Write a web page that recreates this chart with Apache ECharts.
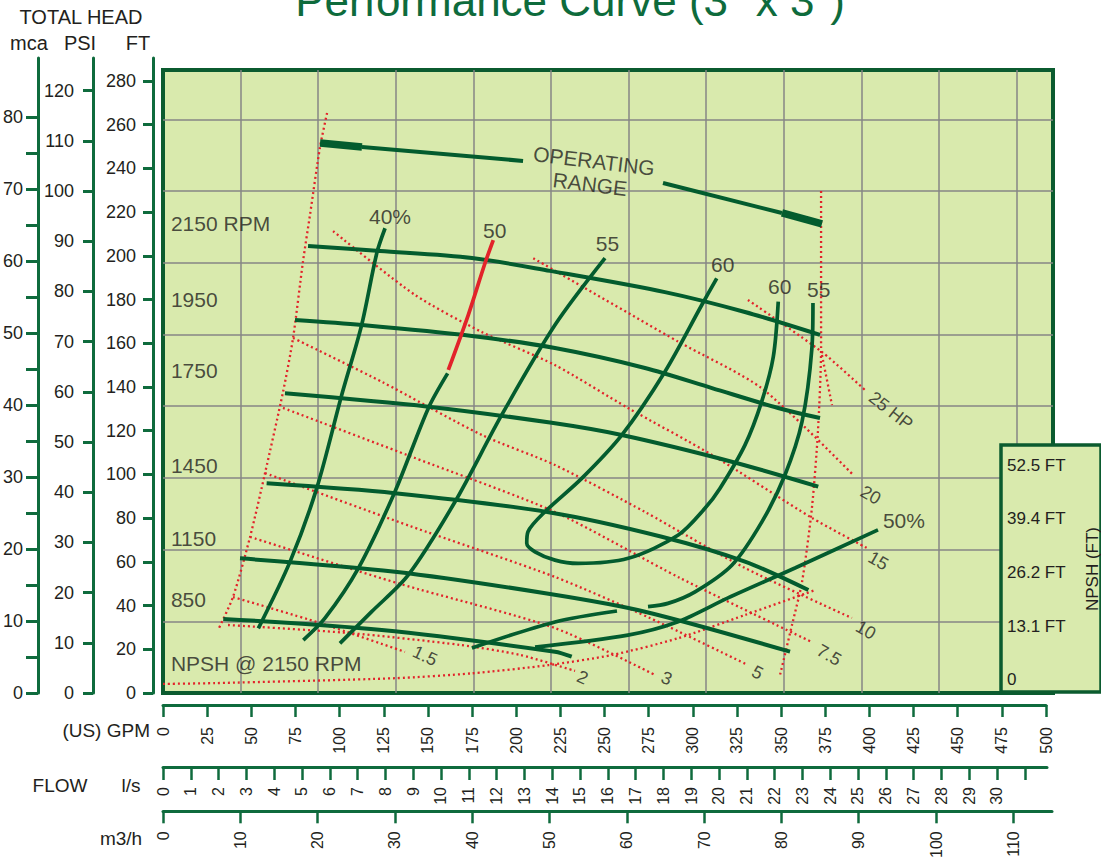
<!DOCTYPE html>
<html><head><meta charset="utf-8">
<script src="https://cdn.jsdelivr.net/npm/echarts@6/dist/echarts.min.js"></script>
<style>html,body{margin:0;padding:0;background:#fff}#c{width:1101px;height:861px}</style>
</head><body><div id="c"></div>
<script>
// ---------- tick labels ----------
const ftTicks = [0,20,40,60,80,100,120,140,160,180,200,220,240,260,280];
const psiTicks = [0,10,20,30,40,50,60,70,80,90,100,110,120];
const mcaTicks = [0,5,10,15,20,25,30,35,40,45,50,55,60,65,70,75,80];
const mcaLabels = [0,10,20,30,40,50,60,70,80];
const gpmTicks = [0,25,50,75,100,125,150,175,200,225,250,275,300,325,350,375,400,425,450,475,500];
const lsTicks = [0,1,2,3,4,5,6,7,8,9,10,11,12,13,14,15,16,17,18,19,20,21,22,23,24,25,26,27,28,29,30,31];
const lsLabels = [0,1,2,3,4,5,6,7,8,9,10,11,12,13,14,15,16,17,18,19,20,21,22,23,24,25,26,27,28,29,30];
const m3hTicks = [0,10,20,30,40,50,60,70,80,90,100,110];
const npshTicks = [0,13.1,26.2,39.4,52.5];

// ---------- head curves [GPM, FT] ----------
const rpm2150 = [[82.3,204.5],[123.1,202.2],[175.3,199.0],[219.6,193.1],[284.8,183.4],[330.2,174.3],[372.8,163.8]];
const rpm1950 = [[74.9,170.6],[112.9,168.3],[175.3,163.3],[222.4,157.8],[273.5,148.7],[311.5,139.5],[349.0,130.4],[372.8,125.8]];
const rpm1750 = [[69.2,137.1],[150.5,131.0],[219.6,123.7],[260.3,118.0],[322.7,105.8],[371.8,94.4]];
const rpm1450 = [[58.8,95.9],[131.6,91.4],[219.6,82.6],[283.0,71.5],[330.2,60.1],[366.2,47.1]];
const rpm1150 = [[43.7,61.6],[131.6,55.5],[219.6,45.3],[273.5,37.2],[355.8,18.9]];
const rpm850  = [[34.2,33.9],[124.1,28.8],[222.4,18.9],[231.9,16.6]];

// ---------- efficiency curves [GPM, FT] ----------
const eff40 = [[126.0,212.6],[121.3,201.2],[112.7,168.3],[101.4,136.3],[87.2,93.6],[72.1,60.1],[54.1,29.6]];
const eff50red = [[187.4,207.2],[182.7,196.6],[173.2,172.9],[161.9,147.8]];
const eff50 = [[161.5,146.2],[150.5,130.2],[131.6,92.1],[110.8,57.0],[91.9,34.2],[79.6,24.2]];
const eff55 = [[250.8,198.9],[222.4,168.3],[192.2,127.2],[165.7,87.5],[139.2,54.0],[118.4,37.2],[100.4,22.7]];
const eff60 = [[314.2,189.7],[305.7,177.5],[284.8,147.0],[260.3,118.0],[237.6,98.2],[216.7,82.9],[207.1,73.8],[206.4,68.5],[211.1,64.6],[222.4,60.8],[235.5,59.3],[264.0,61.6],[292.4,72.3],[307.5,84.5],[316.0,93.6],[330.2,113.4],[339.7,133.3],[346.3,153.8],[349.1,179.0]];
const eff55r = [[368.8,178.4],[368.2,157.8],[362.6,124.1],[352.9,99.7],[339.9,78.4],[322.9,58.6],[301.9,46.3],[286.5,41.0],[275.2,39.5]];
const eff55low = [[175.3,20.6],[222.4,32.5],[257.6,37.5]];
const eff50r = [[211.1,21.0],[263.8,26.5],[292.2,32.6],[320.6,43.5],[358.6,57.2],[405.7,74.6]];

// ---------- operating range ----------
const opLeftBold = [[89.1,251.6],[112.9,249.8]];
const opLeftThin = [[112.9,249.8],[204.3,243.4]];
const opRightThin = [[283.7,233.3],[351.2,219.6]];
const opRightBold = [[351.2,219.6],[373.9,214.6]];

// ---------- red dotted lines ----------
const minFlow = [[93.1,265.3],[89.1,249.8],[83.4,218.7],[79.4,197.2],[73.8,162.4],[68.1,137.7],[57.9,100.6],[49.4,71.4],[39.7,43.9],[31.2,28.8]];
const maxFlow = [[373.4,229.6],[373.4,157.8],[371.6,119.4],[368.2,84.6],[362.6,50.8],[356.9,31.1],[350.1,8.2]];
const maxBranch = [[373.9,154.6],[379.6,131.7]];
const hp25 = [[331.9,179.8],[373.9,156.0],[398.3,138.6]];
const hp20 = [[210.1,198.9],[292.4,160.7],[339.7,139.4],[391.7,99.7]];
const hp15 = [[96.5,211.3],[143.0,182.1],[181.0,165.1],[222.4,150.0],[263.8,130.4],[311.5,108.9],[368.2,80.1],[399.5,66.3]];
const hp10 = [[73.8,162.4],[124.3,142.3],[181.0,118.0],[222.4,104.3],[273.5,82.8],[330.2,57.2],[390.9,34.3]];
const hp7_5 = [[68.1,130.4],[143.0,107.5],[222.4,82.8],[293.4,52.6],[368.2,23.3]];
const hp5 = [[57.9,100.6],[140.1,76.4],[222.4,53.1],[276.3,34.3],[331.9,12.8]];
const hp3 = [[49.4,71.4],[134.5,49.9],[222.4,29.7],[279.2,8.2]];
const hp2 = [[36.9,31.1],[106.1,27.4],[168.5,22.0],[202.6,17.4],[233.8,10.1]];
const hp1_5 = [[39.7,43.9],[89.1,32.0],[137.3,18.8]];
// NPSH @ 2150 RPM [GPM, NPSH ft]
const npsh = [[0,1.0],[29.5,1.2],[131.6,2.4],[175.3,3.6],[218.5,5.6],[254.8,8.1],[292.2,12.2],[330.2,17.9],[369.9,24.0]];

// ---------- annotation texts [GPM, FT, text, rotation] ----------
const rpmLabels = [[4.5,214.7,'2150 RPM'],[4.5,180.2,'1950'],[4.5,147.5,'1750'],[4.5,104.0,'1450'],[4.5,70.8,'1150'],[4.5,42.9,'850'],[4.5,13.3,'NPSH @ 2150 RPM']];
const effLabels = [[128.8,218.0,'40%',0],[188.2,211.8,'50',0],[252.2,205.7,'55',0],[317.6,195.8,'60',0],[349.9,185.9,'60',0],[372.1,184.4,'55',0],[420.4,79.1,'50%',0],[244.6,243.4,'OPERATING',-7],[242.3,232.8,'RANGE',-7]];
const hpLabels = [[413.0,129.1,'25 HP',-38],[401.6,90.6,'20',-30],[405.9,60.5,'15',-30],[398.8,28.8,'10',-30],[378.0,17.4,'7.5',-30],[337.3,9.4,'5',-28],[285.8,6.7,'3',-22],[238.0,7.1,'2',-25],[148.7,17.0,'1.5',-25]];

// ---------- styles ----------
const FONT = '"Liberation Sans", Arial, sans-serif';
const TXT = '#231f20';
const AX = '#0f6b3d';
const GREEN = '#035c2e';
const RED = '#e2232a';
const BG = '#d9eaad';

function line(data, color, width, opt) {
  return Object.assign({
    type: 'line', xAxisIndex: 0, yAxisIndex: 0, data: data, symbol: 'none',
    smooth: 0.3, silent: true, animation: false, z: 3,
    lineStyle: { color: color, width: width, cap: 'butt' }
  }, opt || {});
}
function dotted(data, opt) {
  return line(data, RED, 2.3, Object.assign({ smooth: 0.25, z: 2,
    lineStyle: { color: RED, width: 2.3, type: [2, 3] } }, opt || {}));
}
function labelSeries(items, align, size) {
  return {
    type: 'scatter', xAxisIndex: 0, yAxisIndex: 0, symbolSize: 1, silent: true, animation: false, z: 4,
    itemStyle: { color: 'rgba(0,0,0,0)' },
    data: items.map(a => ({
      value: [a[0], a[1]],
      label: { show: true, formatter: a[2], rotate: a[3] || 0 }
    })),
    label: { show: true, position: 'inside', align: align, verticalAlign: 'middle',
      color: TXT, fontSize: size, fontFamily: FONT }
  };
}

const chart = echarts.init(document.getElementById('c'), null, { renderer: 'svg' });
chart.setOption({
  animation: false,
  textStyle: { fontFamily: FONT },
  grid: [
    { left: 163, top: 70, width: 890, height: 623, show: true, backgroundColor: BG, borderColor: '#0b5b2f', borderWidth: 4, z: 0 },
    { left: 163, top: 700, width: 883, height: 5 },
    { left: 163, top: 762, width: 884, height: 5 },
    { left: 163, top: 809, width: 889, height: 5 },
    { left: 152, top: 58, width: 2, height: 635 },
    { left: 1001, top: 445, width: 106, height: 247, show: true, backgroundColor: BG, borderColor: '#0b5b2f', borderWidth: 3.5, z: 5 }
  ],
  xAxis: [
    { gridIndex: 0, type: 'value', min: 0, max: 505, show: false },
    { gridIndex: 0, type: 'value', min: 0, max: 114.70, interval: 10,
      axisLine: { show: false }, axisTick: { show: false }, axisLabel: { show: false },
      splitLine: { show: true, showMinLine: false, showMaxLine: false, lineStyle: { color: '#868686', width: 1.5 } } },
    { gridIndex: 1, type: 'value', min: 0, max: 500, position: 'bottom',
      axisLine: { show: true, onZero: false, lineStyle: { color: AX, width: 3 } },
      axisTick: { show: true, length: 12, customValues: gpmTicks, lineStyle: { color: AX, width: 2.5 } },
      axisLabel: { customValues: gpmTicks, rotate: 90, margin: 22, color: TXT, fontSize: 16 },
      splitLine: { show: false } },
    { gridIndex: 2, type: 'value', min: 0, max: 31.8, position: 'bottom',
      axisLine: { show: true, onZero: false, lineStyle: { color: AX, width: 3 } },
      axisTick: { show: true, length: 13, customValues: lsTicks, lineStyle: { color: AX, width: 2.5 } },
      axisLabel: { customValues: lsLabels, rotate: 90, margin: 20, color: TXT, fontSize: 16 },
      splitLine: { show: false } },
    { gridIndex: 3, type: 'value', min: 0, max: 115, position: 'bottom',
      axisLine: { show: true, onZero: false, lineStyle: { color: AX, width: 3 } },
      axisTick: { show: true, length: 12, customValues: m3hTicks, lineStyle: { color: AX, width: 2.5 } },
      axisLabel: { customValues: m3hTicks, rotate: 90, margin: 20, color: TXT, fontSize: 16 },
      splitLine: { show: false } },
    { gridIndex: 4, type: 'value', show: false },
    { gridIndex: 5, type: 'value', show: false }
  ],
  yAxis: [
    { gridIndex: 0, type: 'value', min: 0, max: 285, show: false },
    { gridIndex: 0, type: 'value', min: 0, max: 86.87, interval: 10,
      axisLine: { show: false }, axisTick: { show: false }, axisLabel: { show: false },
      splitLine: { show: true, showMinLine: false, showMaxLine: false, lineStyle: { color: '#868686', width: 1.5 } } },
    { gridIndex: 0, type: 'value', min: -1.227, max: 151.6, show: false },
    { gridIndex: 4, type: 'value', min: 0, max: 290.5, position: 'left', offset: 0,
      axisLine: { show: true, lineStyle: { color: AX, width: 3 } },
      axisTick: { show: true, length: 10, customValues: ftTicks, lineStyle: { color: AX, width: 3 } },
      axisLabel: { customValues: ftTicks, margin: 17, color: TXT, fontSize: 18 },
      splitLine: { show: false } },
    { gridIndex: 4, type: 'value', min: 0, max: 126.5, position: 'left', offset: 60,
      axisLine: { show: true, lineStyle: { color: AX, width: 3 } },
      axisTick: { show: true, length: 10, customValues: psiTicks, lineStyle: { color: AX, width: 3 } },
      axisLabel: { customValues: psiTicks, margin: 19, color: TXT, fontSize: 18 },
      splitLine: { show: false } },
    { gridIndex: 4, type: 'value', min: 0, max: 88.2, position: 'left', offset: 115,
      axisLine: { show: true, lineStyle: { color: AX, width: 3 } },
      axisTick: { show: true, length: 12, customValues: mcaTicks, lineStyle: { color: AX, width: 3 } },
      axisLabel: { customValues: mcaLabels, margin: 15, color: TXT, fontSize: 18 },
      splitLine: { show: false } },
    { gridIndex: 1, type: 'value', min: 0, max: 1, show: false },
    { gridIndex: 2, type: 'value', min: 0, max: 1, show: false },
    { gridIndex: 3, type: 'value', min: 0, max: 1, show: false },
    { gridIndex: 5, type: 'value', min: -0.98, max: 59.6, position: 'left', z: 6,
      axisLine: { show: false }, axisTick: { show: false }, splitLine: { show: false },
      axisLabel: { customValues: npshTicks, inside: true, margin: 6, verticalAlign: 'bottom', color: TXT, fontSize: 17,
        formatter: v => (v === 0 ? '0' : v.toFixed(1) + ' FT') } }
  ],
  series: [
    dotted(minFlow), dotted(maxFlow), dotted(maxBranch),
    dotted(hp25), dotted(hp20), dotted(hp15), dotted(hp10), dotted(hp7_5), dotted(hp5), dotted(hp3), dotted(hp2), dotted(hp1_5),
    dotted(npsh, { yAxisIndex: 2 }),
    line(rpm2150, GREEN, 4), line(rpm1950, GREEN, 4), line(rpm1750, GREEN, 4),
    line(rpm1450, GREEN, 4), line(rpm1150, GREEN, 4), line(rpm850, GREEN, 4),
    line(eff40, GREEN, 3.7), line(eff50, GREEN, 3.7), line(eff50red, RED, 3.7), line(eff55, GREEN, 3.7),
    line(eff60, GREEN, 3.7), line(eff55r, GREEN, 3.7), line(eff55low, GREEN, 3.7), line(eff50r, GREEN, 3.7),
    line(opLeftBold, GREEN, 7.5, { smooth: false }), line(opLeftThin, GREEN, 4, { smooth: false }),
    line(opRightThin, GREEN, 4, { smooth: false }), line(opRightBold, GREEN, 7.5, { smooth: false }),
    labelSeries(rpmLabels, 'left', 21),
    labelSeries(effLabels, 'center', 21),
    labelSeries(hpLabels, 'center', 18)
  ],
  graphic: [
    { type: 'text', x: 570, y: 0, z: 10, style: { text: 'Performance Curve (3" x 3")', font: '44px ' + FONT, fill: '#0e6b3c', align: 'center', verticalAlign: 'middle' } },
    { type: 'text', x: 81, y: 17, style: { text: 'TOTAL HEAD', font: '20px ' + FONT, fill: TXT, align: 'center', verticalAlign: 'middle' } },
    { type: 'text', x: 29, y: 43, style: { text: 'mca', font: '20px ' + FONT, fill: TXT, align: 'center', verticalAlign: 'middle' } },
    { type: 'text', x: 80, y: 43, style: { text: 'PSI', font: '20px ' + FONT, fill: TXT, align: 'center', verticalAlign: 'middle' } },
    { type: 'text', x: 138, y: 43, style: { text: 'FT', font: '20px ' + FONT, fill: TXT, align: 'center', verticalAlign: 'middle' } },
    { type: 'text', x: 150, y: 730, style: { text: '(US) GPM', font: '19px ' + FONT, fill: TXT, align: 'right', verticalAlign: 'middle' } },
    { type: 'text', x: 60, y: 785, style: { text: 'FLOW', font: '19px ' + FONT, fill: TXT, align: 'center', verticalAlign: 'middle' } },
    { type: 'text', x: 131, y: 785, style: { text: 'l/s', font: '19px ' + FONT, fill: TXT, align: 'center', verticalAlign: 'middle' } },
    { type: 'text', x: 121, y: 838, style: { text: 'm3/h', font: '19px ' + FONT, fill: TXT, align: 'center', verticalAlign: 'middle' } },
    { type: 'text', x: 1092, y: 569, rotation: Math.PI / 2, z: 10, style: { text: 'NPSH (FT)', font: '17px ' + FONT, fill: TXT, align: 'center', verticalAlign: 'middle' } }
  ]
});
</script></body></html>
